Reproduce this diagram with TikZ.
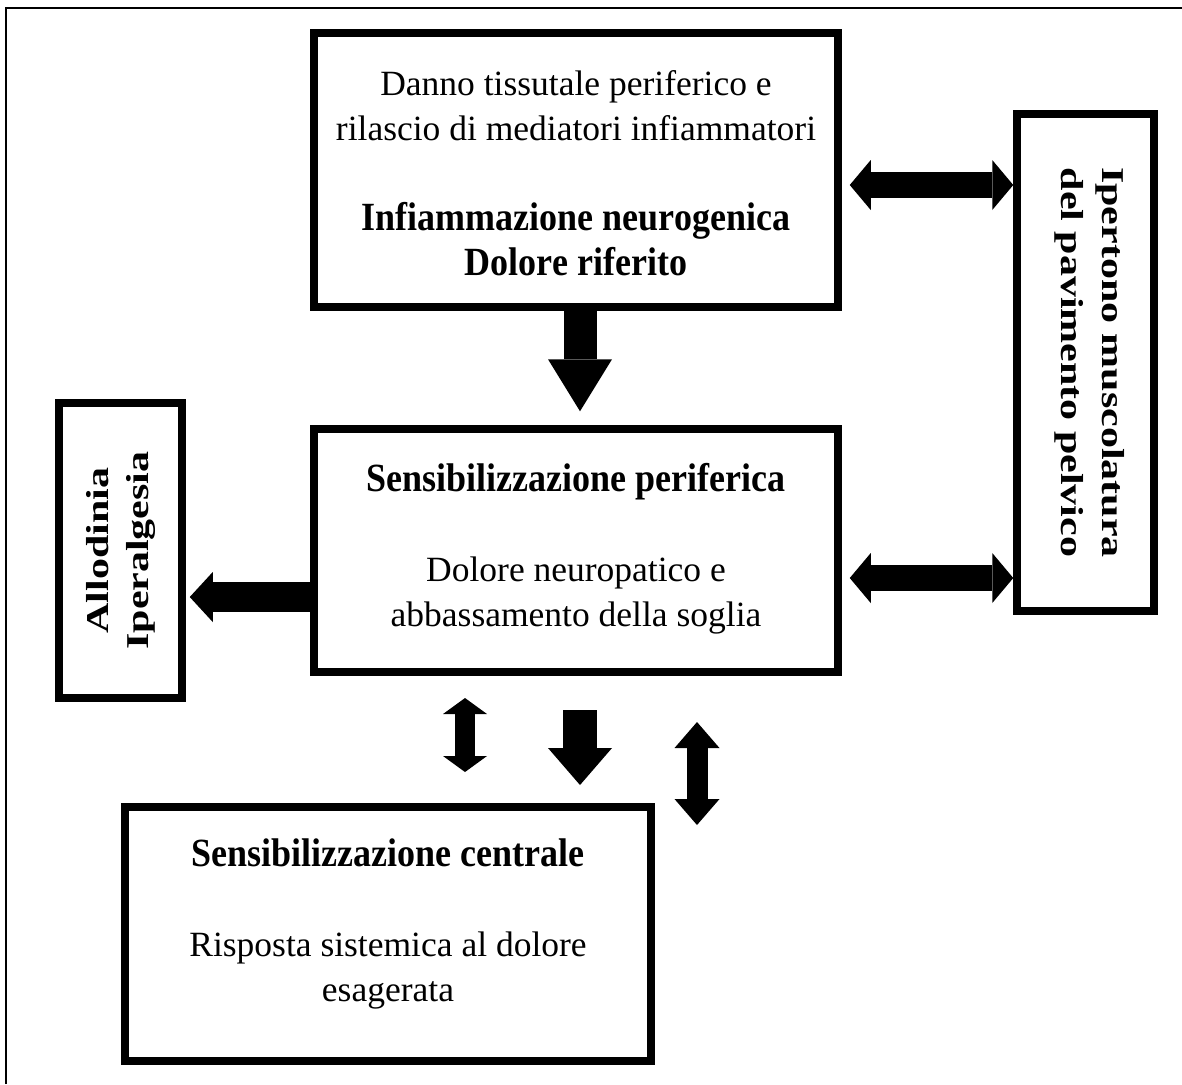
\documentclass[tikz,border=0pt]{standalone}
\usepackage{fontspec}
\setmainfont{Liberation Serif}[BoldFeatures={FakeStretch=0.9}]
\newfontfamily\sidefont{Liberation Serif}[FakeStretch=1.32]
\newcommand\boxhead[1]{{\fontsize{20}{22.5}\selectfont\bfseries #1}}
\usetikzlibrary{arrows.meta}

\begin{document}
\begin{tikzpicture}[x=0.5pt,y=-0.5pt,
   box/.style={draw, line width=3.75pt, inner sep=0pt},
   boxtext/.style={align=center, inner sep=0pt, font=\fontsize{17.75}{22.5}\selectfont},
   sidetext/.style={align=center, inner sep=0pt, font=\sidefont\fontsize{15.9}{#1}\selectfont\bfseries},
   blk/.style n args={3}{line width=#1,
      -{Triangle[width=#2,length=#3,line width=0pt]}},
   dblk/.style n args={3}{line width=#1,
      {Triangle[width=#2,length=#3,line width=0pt]}-{Triangle[width=#2,length=#3,line width=0pt]}}]
   \useasboundingbox (0,0) rectangle (1182,1084);
   \draw[line width=1pt] (6,1084) -- (6,8) -- (1182,8);

   \node[box, minimum width=262pt, minimum height=137pt,
      label={[boxtext, yshift=-1.5pt]center:Danno tissutale periferico e\\ rilascio di mediatori infiammatori\\[22.5pt]
       \boxhead{Infiammazione neurogenica}\\ \boxhead{Dolore riferito}}] (top) at (576,170) {};
   \node[box, minimum width=262pt, minimum height=121.5pt,
      label={[boxtext, yshift=1pt]center:\boxhead{Sensibilizzazione periferica}\\[22.5pt]
       Dolore neuropatico e\\ abbassamento della soglia}] (mid) at (576,550.5) {};
   \node[box, minimum width=263pt, minimum height=127pt,
      label={[boxtext, yshift=5pt]center:\boxhead{Sensibilizzazione centrale}\\[22.5pt]
       Risposta sistemica al dolore\\ esagerata}] (cent) at (388,934) {};
   \node[box, minimum width=61.5pt, minimum height=147.5pt,
      label={[sidetext=20pt, rotate=90]center:Allodinia\\ Iperalgesia}] (allo) at (120.5,550.5) {};
   \node[box, minimum width=68.5pt, minimum height=248.5pt,
      label={[sidetext=20.5pt, rotate=-90, yshift=2pt]center:Ipertono muscolatura\\ del pavimento pelvico}] (pelv) at (1085.5,362.5) {};

   \coordinate (s1) at (465,698);  \coordinate (e1) at (465,772);
   \coordinate (s2) at (580,710);  \coordinate (e2) at (580,785);
   \coordinate (s3) at (697,722);  \coordinate (e3) at (697,825);

   \draw[blk={16.5pt}{32pt}{26pt}, shorten >=7pt] ([xshift=2pt]top.south) -- ([xshift=2pt]mid.north);
   \draw[dblk={13pt}{25pt}{10.5pt}, shorten <=4pt] (top.east |- 0,185) -- (pelv.west |- 0,185);
   \draw[dblk={13pt}{25pt}{10.5pt}, shorten <=4pt] (mid.east |- 0,578) -- (pelv.west |- 0,578);
   \draw[blk={15pt}{25pt}{11.5pt}, shorten >=2pt] (mid.west |- 0,597) -- (allo.east |- 0,597);

   \draw[dblk={10pt}{22pt}{8pt}] (s1) -- (e1);
   \draw[blk={17pt}{32pt}{18.5pt}] (s2) -- (e2);
   \draw[dblk={10.5pt}{22.5pt}{13pt}] (s3) -- (e3);
\end{tikzpicture}
\end{document}
